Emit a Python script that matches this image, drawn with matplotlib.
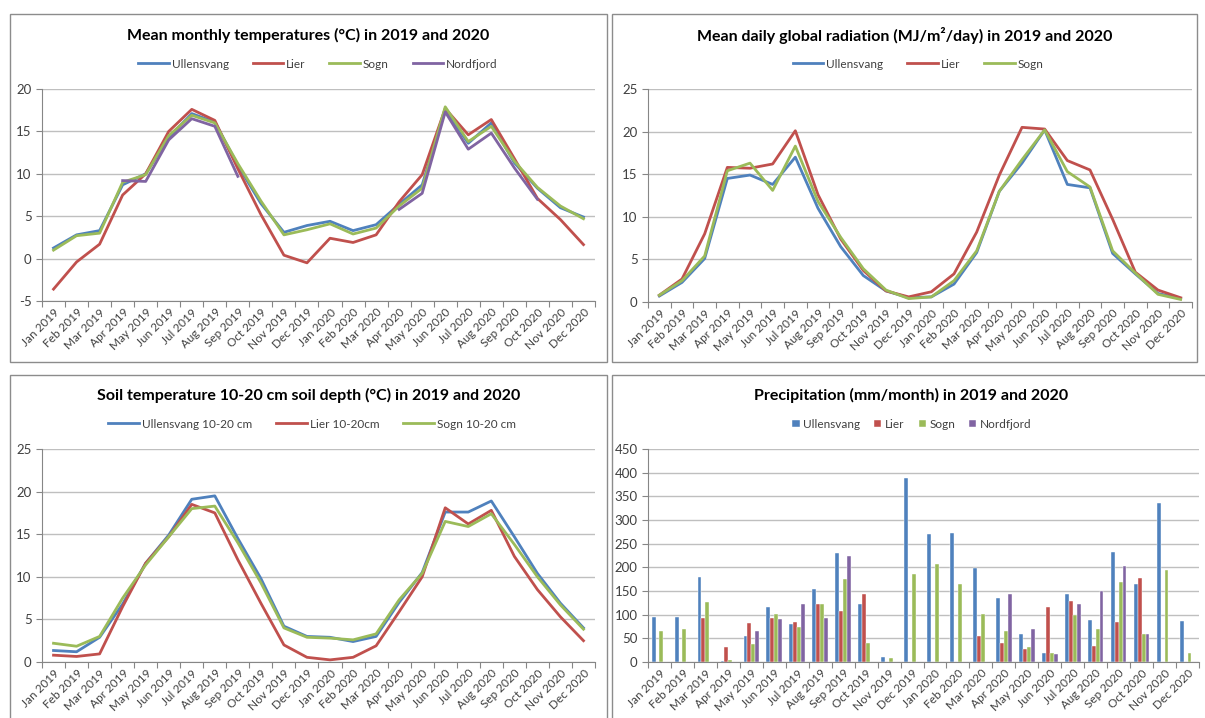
import numpy as np
import matplotlib
matplotlib.use("Agg")
from matplotlib import pyplot as plt
from matplotlib.patches import Rectangle

plt.rcParams["font.family"] = ["Lato", "DejaVu Sans"]
plt.rcParams["axes.unicode_minus"] = False

months = [
    "Jan 2019", "Feb 2019", "Mar 2019", "Apr 2019", "May 2019", "Jun 2019",
    "Jul 2019", "Aug 2019", "Sep 2019", "Oct 2019", "Nov 2019", "Dec 2019",
    "Jan 2020", "Feb 2020", "Mar 2020", "Apr 2020", "May 2020", "Jun 2020",
    "Jul 2020", "Aug 2020", "Sep 2020", "Oct 2020", "Nov 2020", "Dec 2020",
]
nan = np.nan

# mean monthly air temperature (deg C)
temp_ullensvang = [1.25, 2.8, 3.3, 8.7, 10.0, 14.3, 17.1, 16.1, 11.0, 6.5, 3.1, 3.9,
                   4.4, 3.3, 4.0, 6.4, 8.7, 17.5, 13.6, 16.0, 11.3, 8.3, 6.0, 4.9]
temp_lier = [-3.6, -0.4, 1.7, 7.5, 10.0, 15.0, 17.6, 16.3, 10.6, 5.2, 0.4, -0.5,
             2.4, 1.9, 2.8, 6.7, 9.9, 17.7, 14.6, 16.4, 11.8, 7.1, 4.6, 1.65]
temp_sogn = [1.0, 2.7, 3.0, 9.0, 9.9, 14.5, 16.9, 16.0, 11.2, 6.8, 2.8, 3.4,
             4.1, 2.9, 3.6, 6.2, 8.3, 17.9, 13.8, 15.6, 11.5, 8.4, 6.2, 4.7]
temp_nordfjord = [nan, nan, nan, 9.2, 9.1, 14.0, 16.5, 15.6, 9.7, nan, nan, nan,
                  nan, nan, nan, 5.8, 7.7, 17.3, 12.9, 14.8, 10.7, 7.0, nan, nan]

# mean daily global radiation (MJ/m2/day)
rad_ullensvang = [0.7, 2.3, 5.1, 14.5, 14.9, 13.8, 17.0, 11.0, 6.5, 3.1, 1.3, 0.5,
                  0.6, 2.1, 5.8, 13.0, 16.3, 20.2, 13.8, 13.4, 5.7, 3.3, 1.0, 0.4]
rad_lier = [0.8, 2.7, 8.0, 15.8, 15.7, 16.2, 20.1, 12.6, 7.4, 3.7, 1.3, 0.6,
            1.2, 3.3, 8.2, 14.9, 20.5, 20.3, 16.6, 15.5, 9.7, 3.5, 1.4, 0.5]
rad_sogn = [0.8, 2.5, 5.4, 15.4, 16.3, 13.1, 18.3, 11.8, 7.6, 3.9, 1.4, 0.4,
            0.6, 2.5, 6.0, 13.0, 16.7, 20.2, 15.3, 13.5, 6.0, 3.4, 0.9, 0.3]

# soil temperature 10-20 cm depth (deg C)
soil_ullensvang = [1.35, 1.2, 2.9, 6.8, 11.6, 14.9, 19.1, 19.5, 14.5, 9.8, 4.2, 3.0,
                   2.9, 2.4, 3.0, 7.0, 10.5, 17.6, 17.6, 18.9, 14.7, 10.4, 6.9, 4.0]
soil_lier = [0.8, 0.65, 0.95, 6.5, 11.6, 14.7, 18.5, 17.5, 12.0, 6.9, 2.0, 0.55,
             0.25, 0.55, 1.9, 5.9, 10.0, 18.1, 16.2, 17.8, 12.4, 8.5, 5.3, 2.5]
soil_sogn = [2.2, 1.85, 3.0, 7.5, 11.4, 14.7, 18.0, 18.3, 14.0, 9.3, 4.0, 2.9,
             2.8, 2.6, 3.3, 7.3, 10.4, 16.5, 15.9, 17.4, 13.8, 10.0, 6.7, 3.85]

# precipitation (mm/month)
prec_ullensvang = [95, 95, 180, 2, 54, 117, 80, 155, 231, 122, 11, 389,
                   270, 272, 198, 136, 60, 18, 144, 89, 233, 165, 336, 86]
prec_lier = [0, 0, 94, 31, 83, 94, 85, 122, 108, 144, 0, 0,
             0, 0, 54, 40, 28, 117, 128, 34, 84, 177, 0, 0]
prec_sogn = [65, 70, 127, 5, 38, 101, 73, 122, 175, 41, 8, 185,
             206, 165, 102, 65, 32, 20, 100, 69, 170, 59, 195, 20]
prec_nordfjord = [0, 0, 0, 0, 66, 90, 122, 92, 224, 0, 0, 0,
                  0, 0, 0, 143, 70, 16, 122, 149, 203, 60, 0, 0]

BLUE = "#4F81BD"
RED = "#C0504D"
GREEN = "#9BBB59"
PURPLE = "#8064A2"
GRID = "#BFBFBF"
AXIS = "#868686"
TEXT = "#404040"

W, H = 1205, 718


def px_box(x0, y0, x1, y1):
    # pixel box (top-left origin) -> figure fraction [left, bottom, width, height]
    return [x0 / W, 1 - y1 / H, (x1 - x0) / W, (y1 - y0) / H]


def style_axes(ax, ymin, ymax, ystep):
    ax.set_xlim(-0.5, len(months) - 0.5)
    ax.set_ylim(ymin, ymax)
    ax.set_yticks(np.arange(ymin, ymax + ystep / 2, ystep))
    ax.yaxis.grid(True, color=GRID, linewidth=1.0)
    ax.set_axisbelow(True)
    for side in ["top", "right"]:
        ax.spines[side].set_visible(False)
    ax.spines["left"].set_color(AXIS)
    ax.spines["bottom"].set_color(AXIS)
    ax.tick_params(axis="y", colors=AXIS, labelcolor=TEXT, labelsize=9.5, length=4, direction="out")
    # ticks sit between categories, labels in the middle
    ax.set_xticks(np.arange(-0.5, len(months), 1.0))
    ax.set_xticklabels([])
    ax.set_xticks(np.arange(len(months)), minor=True)
    ax.set_xticklabels(months, minor=True, rotation=45, ha="right", rotation_mode="anchor",
                       fontsize=8.5, color=TEXT)
    ax.tick_params(axis="x", which="major", colors=AXIS, length=4, direction="out")
    ax.tick_params(axis="x", which="minor", length=0, pad=4)


def panel_frame(fig, x0, y0, x1, y1, title, title_y):
    fig.patches.append(Rectangle((x0 / W, 1 - y1 / H), (x1 - x0) / W, (y1 - y0) / H,
                                 transform=fig.transFigure, fill=False,
                                 edgecolor="#8C8C8C", linewidth=1.0))
    fig.text((x0 + x1) / 2 / W, 1 - title_y / H, title, ha="center", va="center",
             fontsize=11.5, fontweight="bold", color="black")


def add_legend(ax, handles, labels, y_px, x_center_px, marker=False):
    fig = ax.figure
    kw = dict(handlelength=2.6, handletextpad=0.25, columnspacing=2.0)
    if marker:
        kw = dict(handlelength=0.6, handleheight=0.6, handletextpad=0.3, columnspacing=1.2)
    fig.legend(handles, labels, loc="center", ncol=len(labels), frameon=False,
               bbox_to_anchor=(x_center_px / W, 1 - y_px / H), fontsize=8.5,
               labelcolor=TEXT, **kw)


fig = plt.figure(figsize=(W / 100, H / 100), dpi=100)
x = np.arange(len(months))

# panel 1: air temperature
panel_frame(fig, 10, 14, 607, 362, "Mean monthly temperatures (°C) in 2019 and 2020", 35)
ax1 = fig.add_axes(px_box(42, 89, 595, 301))
style_axes(ax1, -5, 20, 5)
lines = []
for series, color in [(temp_ullensvang, BLUE), (temp_lier, RED),
                      (temp_sogn, GREEN), (temp_nordfjord, PURPLE)]:
    lines += ax1.plot(x, series, color=color, linewidth=2.0)
add_legend(ax1, lines, ["Ullensvang", "Lier", "Sogn", "Nordfjord"], 64, 318)

# panel 2: global radiation
panel_frame(fig, 612, 14, 1197, 362, "Mean daily global radiation (MJ/m²/day) in 2019 and 2020", 35)
ax2 = fig.add_axes(px_box(648, 89, 1192, 302))
style_axes(ax2, 0, 25, 5)
lines = []
for series, color in [(rad_ullensvang, BLUE), (rad_lier, RED), (rad_sogn, GREEN)]:
    lines += ax2.plot(x, series, color=color, linewidth=2.0)
add_legend(ax2, lines, ["Ullensvang", "Lier", "Sogn"], 64, 918)

# panel 3: soil temperature
panel_frame(fig, 10, 375, 607, 722, "Soil temperature 10-20 cm soil depth (°C) in 2019 and 2020", 395)
ax3 = fig.add_axes(px_box(42, 449, 595, 662))
style_axes(ax3, 0, 25, 5)
lines = []
for series, color in [(soil_ullensvang, BLUE), (soil_lier, RED), (soil_sogn, GREEN)]:
    lines += ax3.plot(x, series, color=color, linewidth=2.0)
add_legend(ax3, lines, ["Ullensvang 10-20 cm", "Lier 10-20cm", "Sogn 10-20 cm"], 424, 312)

# panel 4: precipitation
panel_frame(fig, 612, 375, 1210, 722, "Precipitation (mm/month) in 2019 and 2020", 395)
ax4 = fig.add_axes(px_box(648, 449, 1199, 662))
style_axes(ax4, 0, 450, 50)
bw = 0.17
bars = []
for k, (series, color) in enumerate([(prec_ullensvang, BLUE), (prec_lier, RED),
                                     (prec_sogn, GREEN), (prec_nordfjord, PURPLE)]):
    bars.append(ax4.bar(x + (k - 1.5) * bw, series, width=bw, color=color,
                        edgecolor="white", linewidth=0.3))
add_legend(ax4, bars, ["Ullensvang", "Lier", "Sogn", "Nordfjord"], 424, 912, marker=True)

fig.savefig("out.png", dpi=100)
